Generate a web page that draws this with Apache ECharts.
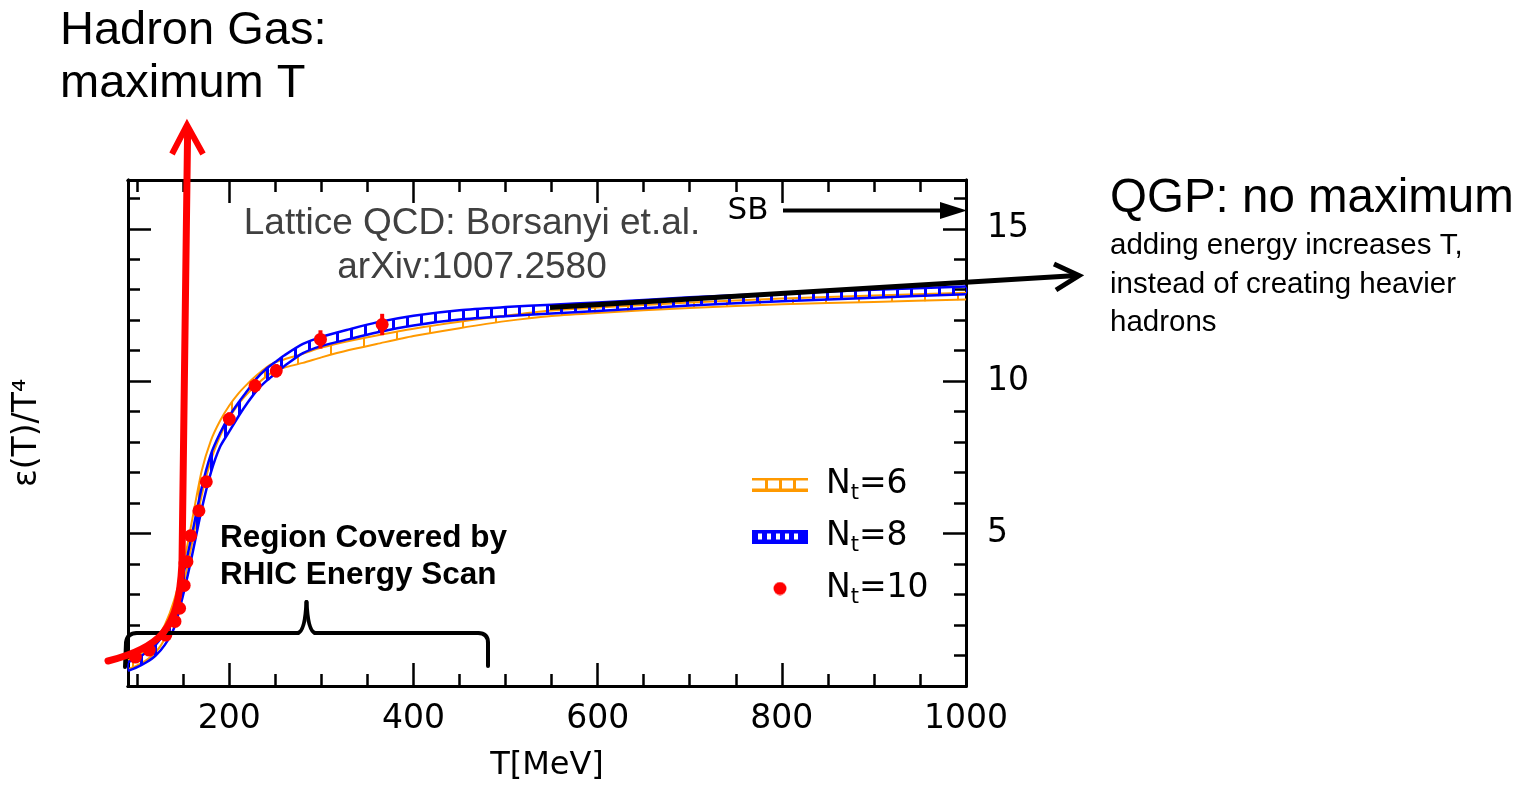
<!DOCTYPE html>
<html>
<head>
<meta charset="utf-8">
<script src="https://cdn.jsdelivr.net/npm/echarts@6/dist/echarts.min.js"></script>
<style>
  html, body { margin: 0; padding: 0; background: #ffffff; }
  #chart { width: 1528px; height: 787px; }
</style>
</head>
<body>
<div id="chart"></div>
<script>
// Temperature grid (MeV) of the continuum bands
const bandT = [90, 100, 110, 120, 130, 140, 150, 160, 170, 180, 190, 200, 210, 220, 230, 240, 250, 260, 280, 300, 330, 360, 400, 450, 500, 550, 600, 700, 800, 900, 1000];

// N_t = 6 band: lower / upper edge of eps/T^4
const nt6Lower = [0.55, 0.68, 0.85, 1.10, 1.55, 2.25, 3.30, 4.75, 6.25, 7.40, 8.20, 8.80, 9.25, 9.60, 9.90, 10.15, 10.35, 10.45, 10.60, 10.78, 11.02, 11.22, 11.48, 11.74, 11.97, 12.14, 12.24, 12.40, 12.52, 12.60, 12.68];
const nt6Upper = [0.85, 1.00, 1.20, 1.50, 2.00, 2.80, 3.95, 5.50, 7.05, 8.05, 8.70, 9.20, 9.60, 9.92, 10.20, 10.45, 10.62, 10.72, 10.90, 11.10, 11.32, 11.50, 11.72, 11.95, 12.15, 12.32, 12.42, 12.58, 12.71, 12.81, 12.90];

// N_t = 8 band: lower / upper edge of eps/T^4
const nt8Lower = [0.50, 0.62, 0.78, 1.00, 1.35, 1.90, 3.00, 4.35, 5.80, 7.00, 7.85, 8.35, 8.85, 9.30, 9.70, 10.00, 10.25, 10.50, 10.92, 11.15, 11.38, 11.60, 11.83, 12.02, 12.13, 12.22, 12.30, 12.48, 12.62, 12.74, 12.85];
const nt8Upper = [0.78, 0.92, 1.10, 1.35, 1.75, 2.40, 3.65, 5.05, 6.50, 7.60, 8.30, 8.85, 9.30, 9.70, 10.10, 10.40, 10.63, 10.85, 11.22, 11.45, 11.70, 11.93, 12.15, 12.33, 12.43, 12.51, 12.58, 12.75, 12.88, 13.00, 13.11];

// N_t = 10 points with errors
const nt10T   = [98, 113, 131, 141, 146, 151, 154, 158, 167, 175, 200, 228, 251, 299, 366];
const nt10Val = [0.95, 1.18, 1.67, 2.12, 2.55, 3.30, 4.08, 4.93, 5.75, 6.70, 8.76, 9.85, 10.34, 11.37, 11.86];
const nt10Err = [0.10, 0.10, 0.10, 0.10, 0.12, 0.12, 0.12, 0.15, 0.15, 0.18, 0.22, 0.22, 0.22, 0.30, 0.35];

// Axis ticks and labels
const xMajorTicks = [200, 400, 600, 800, 1000];
const xMinorTicks = [100, 150, 250, 300, 350, 450, 500, 550, 650, 700, 750, 850, 900, 950];
const yMajorTicks = [5, 10, 15];
const yMinorTicks = [1, 2, 3, 4, 6, 7, 8, 9, 11, 12, 13, 14, 16];

const X_MIN = 90, X_MAX = 1000, Y_MIN = 0, Y_MAX = 16.6;
const PLOT_FONT = '"DejaVu Sans", sans-serif';
const NOTE_FONT = '"Liberation Sans", Arial, sans-serif';

// Vertical rung pattern used to hatch the bands
function rungPattern(color, spacing, width) {
  const c = document.createElement('canvas');
  c.width = spacing; c.height = 4;
  const g = c.getContext('2d');
  g.fillStyle = color;
  g.fillRect(0, 0, width, 4);
  return c;
}

// Legend icons (extra transparent room on the right sets the icon-text gap)
function legendIcon(kind) {
  const c = document.createElement('canvas');
  c.width = 69; c.height = 14;
  const g = c.getContext('2d');
  if (kind === 'nt6') {
    g.fillStyle = '#ff9900';
    g.fillRect(0, 0, 56, 3);
    g.fillRect(0, 11, 56, 3);
    [13, 27, 41].forEach(x => g.fillRect(x, 0, 3, 14));
  } else if (kind === 'nt8') {
    g.fillStyle = '#0000ff';
    g.fillRect(0, 0, 56, 14);
    g.fillStyle = '#ffffff';
    [6, 15, 24, 33, 42].forEach(x => g.fillRect(x, 4, 4, 6));
  } else {
    g.fillStyle = '#ff0000';
    g.beginPath(); g.arc(28, 7, 6.5, 0, Math.PI * 2); g.fill();
  }
  return 'image://' + c.toDataURL();
}

function xAxisDef(position, ticks, len, withLabels) {
  return {
    type: 'value', position, min: X_MIN, max: X_MAX,
    name: withLabels ? 'T[MeV]' : '',
    nameLocation: 'middle', nameGap: 64,
    nameTextStyle: { fontFamily: PLOT_FONT, fontSize: 32, color: '#000' },
    axisLine: { show: true, onZero: false, lineStyle: { color: '#000', width: 3 } },
    axisTick: { show: true, inside: true, length: len, customValues: ticks, lineStyle: { color: '#000', width: 2.5 } },
    axisLabel: withLabels
      ? { show: true, customValues: xMajorTicks, formatter: v => String(v), margin: 17, fontFamily: PLOT_FONT, fontSize: 33, color: '#000' }
      : { show: false },
    splitLine: { show: false }
  };
}

function yAxisDef(position, ticks, len, withLabels, title) {
  return {
    type: 'value', position, min: Y_MIN, max: Y_MAX,
    name: title || '',
    nameLocation: 'middle', nameGap: 84, nameRotate: 90,
    nameTextStyle: { fontFamily: PLOT_FONT, fontSize: 33, color: '#000' },
    axisLine: { show: true, onZero: false, lineStyle: { color: '#000', width: 3 } },
    axisTick: { show: true, inside: true, length: len, customValues: ticks, lineStyle: { color: '#000', width: 2.5 } },
    axisLabel: withLabels
      ? { show: true, customValues: yMajorTicks, formatter: v => String(v), margin: 21, fontFamily: PLOT_FONT, fontSize: 33, color: '#000' }
      : { show: false },
    splitLine: { show: false }
  };
}

// A band: hatched polygon between the lower and upper edges, plus both edge lines
function bandSeries(name, lower, upper, color, pattern, lineWidth, z) {
  return {
    type: 'custom', name, z, silent: true,
    data: bandT.map((t, i) => [t, lower[i], upper[i]]),
    encode: { x: 0, y: [1, 2] },
    renderItem: (params, api) => {
      if (params.dataIndex !== 0) return null;
      const lo = bandT.map((t, i) => api.coord([t, lower[i]]));
      const hi = bandT.map((t, i) => api.coord([t, upper[i]]));
      const outline = hi.concat(lo.slice().reverse());
      return {
        type: 'group',
        children: [
          { type: 'polygon', shape: { points: outline, smooth: 0.25 },
            style: { fill: { image: pattern, repeat: 'repeat' }, stroke: null } },
          { type: 'polyline', shape: { points: hi, smooth: 0.25 },
            style: { stroke: color, lineWidth, fill: null } },
          { type: 'polyline', shape: { points: lo, smooth: 0.25 },
            style: { stroke: color, lineWidth, fill: null } }
        ]
      };
    }
  };
}

const chart = echarts.init(document.getElementById('chart'), null, { renderer: 'canvas' });

const series = [
  bandSeries('N_t=6', nt6Lower, nt6Upper, '#ff9900', rungPattern('#ff9900', 33, 2), 2, 2),
  bandSeries('N_t=8', nt8Lower, nt8Upper, '#0000ff', rungPattern('#0000ff', 14, 3), 2.5, 3),
  {
    type: 'custom', name: 'N_t=10 err', z: 4, silent: true,
    renderItem: (params, api) => {
      const t = api.value(0), v = api.value(1), e = api.value(2);
      const p1 = api.coord([t, v - e]);
      const p2 = api.coord([t, v + e]);
      return { type: 'line', shape: { x1: p1[0], y1: p1[1], x2: p2[0], y2: p2[1] },
               style: { stroke: '#ff0000', lineWidth: 4 } };
    },
    data: nt10T.map((t, i) => [t, nt10Val[i], nt10Err[i]])
  },
  {
    type: 'scatter', name: 'N_t=10', z: 5, silent: true,
    symbol: 'circle', symbolSize: 13,
    itemStyle: { color: '#ff0000', opacity: 1 },
    data: nt10T.map((t, i) => [t, nt10Val[i]])
  }
];

function noteText(x, y, text, font, fill, align) {
  return { type: 'text', x, y, z: 50,
           style: { text, font, fill: fill || '#000', align: align || 'left', verticalAlign: 'middle' } };
}
function seg(x1, y1, x2, y2, stroke, width, z) {
  return { type: 'line', z: z || 50, shape: { x1, y1, x2, y2 },
           style: { stroke, lineWidth: width, lineCap: 'round' } };
}
function curve(shape, stroke, width, z) {
  return { type: 'bezierCurve', z: z || 50, shape,
           style: { stroke, lineWidth: width, fill: null, lineCap: 'round' } };
}

const graphic = [
  // headings and notes
  noteText(60, 31, 'Hadron Gas:', '47px ' + NOTE_FONT),
  noteText(60, 84, 'maximum T', '47px ' + NOTE_FONT),
  noteText(1110, 199, 'QGP: no maximum', '47.5px ' + NOTE_FONT),
  noteText(1110, 246, 'adding energy increases T,', '29.5px ' + NOTE_FONT),
  noteText(1110, 285, 'instead of creating heavier', '29.5px ' + NOTE_FONT),
  noteText(1110, 323, 'hadrons', '29.5px ' + NOTE_FONT),
  noteText(472, 224, 'Lattice QCD: Borsanyi et.al.', '37px ' + NOTE_FONT, '#404040', 'center'),
  noteText(472, 268, 'arXiv:1007.2580', '37px ' + NOTE_FONT, '#404040', 'center'),
  noteText(748, 211, 'SB', '31px ' + PLOT_FONT, '#000', 'center'),
  noteText(220, 538, 'Region Covered by', 'bold 31.5px ' + NOTE_FONT),
  noteText(220, 575, 'RHIC Energy Scan', 'bold 31.5px ' + NOTE_FONT),

  // Stefan-Boltzmann limit arrow
  { type: 'line', z: 50, shape: { x1: 783, y1: 210.5, x2: 946, y2: 210.5 }, style: { stroke: '#000', lineWidth: 4 } },
  { type: 'polygon', z: 50, shape: { points: [[940, 202], [967, 210.5], [940, 219]] }, style: { fill: '#000' } },

  // QGP arrow
  { type: 'line', z: 50, shape: { x1: 550, y1: 307.5, x2: 1077, y2: 275.5 }, style: { stroke: '#000', lineWidth: 5 } },
  { type: 'polyline', z: 50, shape: { points: [[1054, 264], [1079, 275.5], [1056, 290]] }, style: { stroke: '#000', lineWidth: 5, fill: null, lineJoin: 'miter' } },

  // RHIC brace
  seg(125, 667, 126, 643, '#000', 4),
  curve({ x1: 126, y1: 643, cpx1: 127, cpy1: 633, x2: 137, y2: 633 }, '#000', 4),
  seg(137, 633, 298, 633, '#000', 4),
  curve({ x1: 298, y1: 633, cpx1: 305, cpy1: 631, x2: 306.5, y2: 602 }, '#000', 4),
  curve({ x1: 306.5, y1: 602, cpx1: 308, cpy1: 631, x2: 315, y2: 633 }, '#000', 4),
  seg(315, 633, 478, 633, '#000', 4),
  curve({ x1: 478, y1: 633, cpx1: 488, cpy1: 633, x2: 488, y2: 643 }, '#000', 4),
  seg(488, 643, 488, 666, '#000', 4),

  // Hadron gas arrow
  curve({ x1: 108, y1: 661, cpx1: 128, cpy1: 656, cpx2: 150, cpy2: 648, x2: 163, y2: 633 }, '#ff0000', 7, 60),
  curve({ x1: 163, y1: 633, cpx1: 175, cpy1: 618, cpx2: 180, cpy2: 600, x2: 182, y2: 563 }, '#ff0000', 7, 60),
  seg(182, 563, 187.6, 132, '#ff0000', 7, 60),
  { type: 'polyline', z: 60, shape: { points: [[172, 154], [187, 125], [203, 154]] },
    style: { stroke: '#ff0000', lineWidth: 6, fill: null, lineJoin: 'miter' } }
];

chart.setOption({
  animation: false,
  backgroundColor: '#ffffff',
  grid: { left: 128, right: 562, top: 180, bottom: 99, containLabel: false },
  xAxis: [
    xAxisDef('bottom', xMajorTicks, 23, true),
    xAxisDef('bottom', xMinorTicks, 12, false),
    xAxisDef('top', xMajorTicks, 23, false),
    xAxisDef('top', xMinorTicks, 12, false)
  ],
  yAxis: [
    yAxisDef('right', yMajorTicks, 23, true),
    yAxisDef('right', yMinorTicks, 12, false),
    yAxisDef('left', yMajorTicks, 23, false, 'ε(T)/T⁴'),
    yAxisDef('left', yMinorTicks, 12, false)
  ],
  legend: {
    orient: 'vertical', left: 752, top: 468, padding: 0,
    itemWidth: 69, itemHeight: 14, itemGap: 15.5,
    selectedMode: false,
    data: [
      { name: 'N_t=6', icon: legendIcon('nt6') },
      { name: 'N_t=8', icon: legendIcon('nt8') },
      { name: 'N_t=10', icon: legendIcon('nt10') }
    ],
    formatter: name => '{n|N}{s|t}{n|=' + name.split('=')[1] + '}',
    textStyle: {
      rich: {
        n: { fontFamily: PLOT_FONT, fontSize: 33, color: '#000', lineHeight: 40 },
        s: { fontFamily: PLOT_FONT, fontSize: 21, color: '#000', lineHeight: 14, verticalAlign: 'bottom' }
      }
    }
  },
  series,
  graphic
});
</script>
</body>
</html>
